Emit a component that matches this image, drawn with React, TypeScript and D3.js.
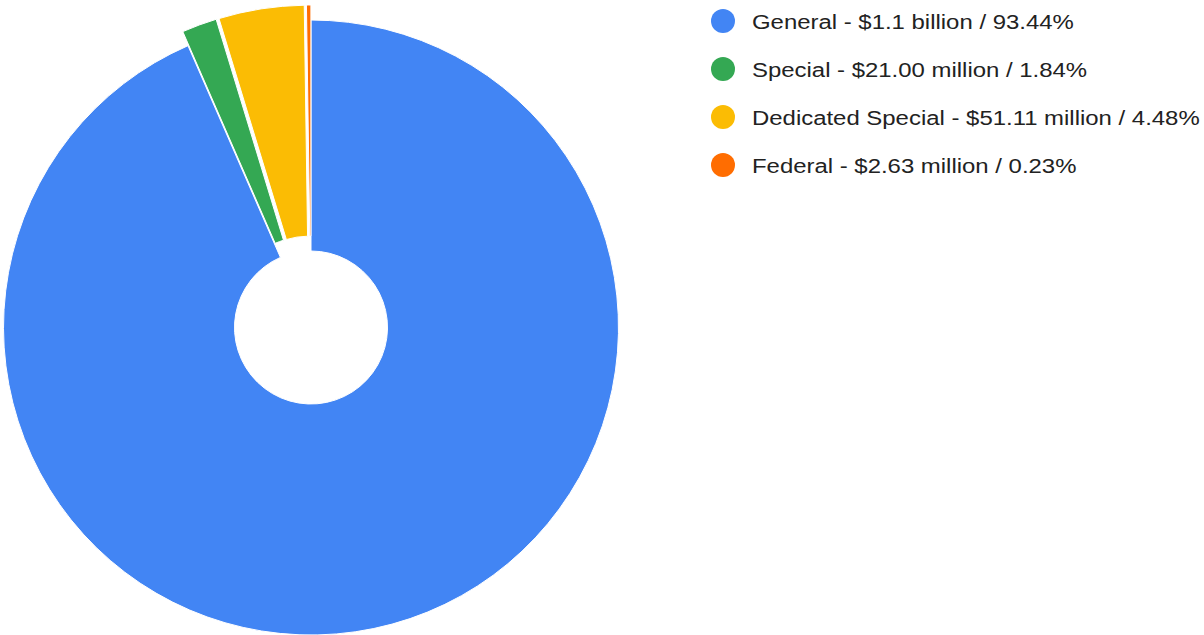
import React, { useMemo } from "react";
import * as d3 from "d3";

// fund categories and amounts (millions of dollars)
const categories = ["General", "Special", "Dedicated Special", "Federal"];
const amounts = [1066.26, 21.0, 51.11, 2.63];
const amountLabels = ["$1.1 billion", "$21.00 million", "$51.11 million", "$2.63 million"];
const percentLabels = ["93.44%", "1.84%", "4.48%", "0.23%"];
const colors = ["#4285f4", "#34a853", "#fbbc04", "#ff6d01"];

const WIDTH = 1204;
const HEIGHT = 635;

const App = () => {
  const cx = 311;
  const cy = 327.5;
  const outer = 307.5;
  const inner = 76.5;
  const explode = 15;

  const slices = useMemo(() => {
    const pie = d3.pie<number>().sort(null).startAngle(0).endAngle(2 * Math.PI);
    return pie(amounts);
  }, []);

  const arc = d3.arc<d3.PieArcDatum<number>>().innerRadius(inner).outerRadius(outer);

  const legendX = 723;
  const legendY = 21;
  const legendStep = 48;

  return (
    <svg
      width={WIDTH}
      height={HEIGHT}
      style={{ position: "absolute", left: 0, top: 0, background: "#fff" }}
      fontFamily="'Liberation Sans', Arial, sans-serif"
    >
      <g transform={`translate(${cx},${cy})`}>
        {slices.map((s, i) => {
          const mid = (s.startAngle + s.endAngle) / 2;
          const off = i === 0 ? 0 : explode;
          const dx = Math.sin(mid) * off;
          const dy = -Math.cos(mid) * off;
          return (
            <path
              key={categories[i]}
              d={arc(s) || ""}
              transform={`translate(${dx},${dy})`}
              fill={colors[i]}
              stroke="#fff"
              strokeWidth={1}
            />
          );
        })}
      </g>
      <g>
        {categories.map((c, i) => (
          <g key={c} transform={`translate(${legendX},${legendY + i * legendStep})`}>
            <circle r={12} fill={colors[i]} />
            {/* the legend text in the source is slightly stretched sideways */}
            <text
              transform="translate(29,0) scale(1.14,1)"
              dy="0.36em"
              fontSize={21}
              fill="#222"
            >
              {`${c} - ${amountLabels[i]} / ${percentLabels[i]}`}
            </text>
          </g>
        ))}
      </g>
    </svg>
  );
};

export default App;
